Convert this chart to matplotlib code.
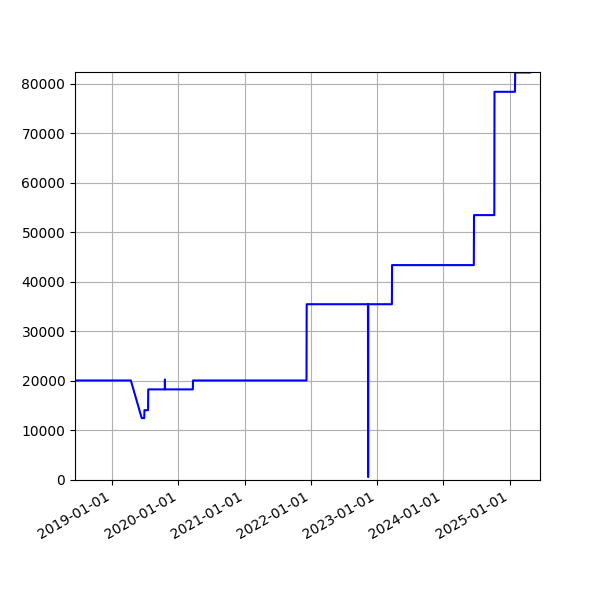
import numpy as np
import pandas as pd
import matplotlib
matplotlib.use("Agg")
import matplotlib.pyplot as plt
import matplotlib.dates as mdates

# values (date, value)
dates = [
    "2018-06-10", "2019-04-14", "2019-06-13", "2019-06-27", "2019-06-28",
    "2019-07-01", "2019-07-18", "2019-07-19", "2019-10-18", "2019-10-19",
    "2019-10-20", "2020-03-21", "2020-03-22", "2021-12-08", "2021-12-09",
    "2022-11-12", "2022-11-13", "2022-11-14", "2023-03-24", "2023-03-25",
    "2024-06-18", "2024-06-19", "2024-10-09", "2024-10-10", "2025-01-31",
    "2025-02-01", "2025-04-24",
]
values = [
    20100, 20100, 12500, 12500, 14100,
    14100, 14100, 18300, 18300, 20300,
    18300, 18300, 20100, 20100, 35500,
    35500, 600, 35500, 35500, 43400,
    43400, 53500, 53500, 78400, 78400,
    82300, 82300,
]

x = pd.to_datetime(dates)

fig, ax = plt.subplots(figsize=(6, 6), dpi=100)
ax.plot(x, values, color="blue")
ax.set_xlim(pd.Timestamp("2018-06-10"), pd.Timestamp("2025-06-18"))
ax.set_ylim(0, 82400)
ax.xaxis.set_major_locator(mdates.YearLocator())
ax.xaxis.set_major_formatter(mdates.DateFormatter("%Y-%m-%d"))
ax.grid(True)
fig.autofmt_xdate()

fig.savefig("out.png")
